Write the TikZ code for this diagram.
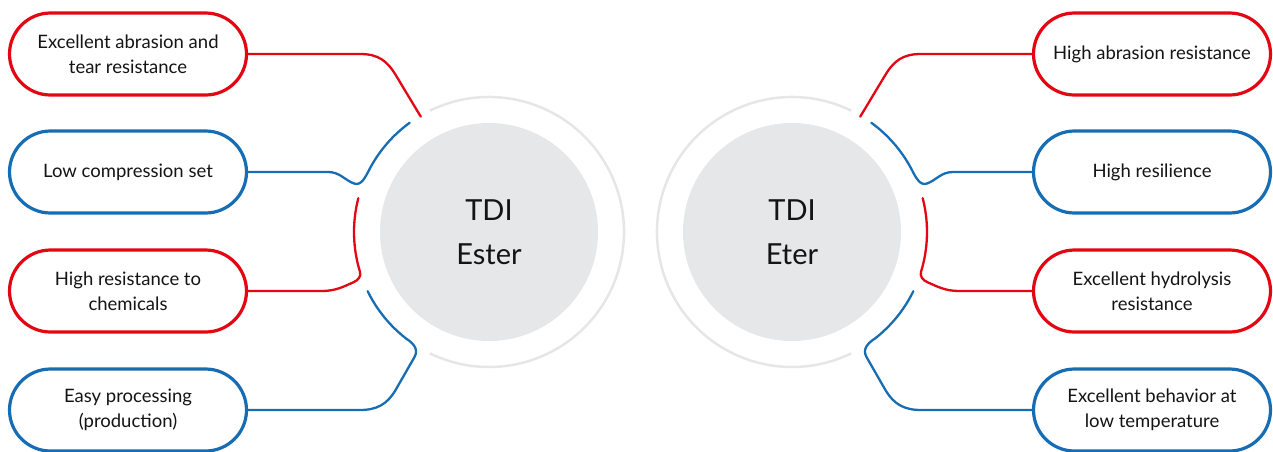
\documentclass[tikz,border=0pt]{standalone}
\usepackage{fontspec}
\setmainfont{Lato}
\usetikzlibrary{calc}
\definecolor{cred}{RGB}{227,6,19}
\definecolor{cblue}{RGB}{23,109,180}
\definecolor{cfill}{RGB}{230,231,232}
\definecolor{cring}{RGB}{230,230,230}
\definecolor{ctext}{RGB}{20,20,20}
\begin{document}
\begin{tikzpicture}[x=1pt,y=1pt,
  pill/.style={draw, fill=white, line width=3.2pt, rounded corners=41pt, minimum width=237pt, minimum height=82pt,
    align=center, font=\fontsize{18.5}{25}\selectfont, text=ctext, inner sep=0pt},
  redpill/.style={pill, draw=cred},
  bluepill/.style={pill, draw=cblue},
  conn/.style={line width=2.3pt, line cap=round},
  hub/.style={circle, fill=cfill, minimum size=218pt, inner sep=0pt, align=center,
    font=\fontsize{29}{44}\selectfont, text=ctext},
  ring/.style={draw=cring, line width=2.5pt}
]
\useasboundingbox (0,0) rectangle (1273,-451);

% hubs
\node[hub] (cl) at (489,-232) {TDI\\Ester};
\node[hub] (cr) at (792,-232) {TDI\\Eter};
\draw[ring] ($(cl)+(116:135)$) arc[start angle=116, end angle=-116, radius=135];
\draw[ring] ($(cr)+(64:135)$) arc[start angle=64, end angle=296, radius=135];

% boxes left
\node[redpill]  (l1) at (128,-54)  {Excellent abrasion and\\tear resistance};
\node[bluepill] (l2) at (128,-172) {Low compression set};
\node[redpill]  (l3) at (128,-291) {High resistance to\\chemicals};
\node[bluepill] (l4) at (128,-410) {Easy processing\\(production)};
% boxes right
\node[redpill]  (r1) at (1152,-54)  {High abrasion resistance};
\node[bluepill] (r2) at (1152,-172) {High resilience};
\node[redpill]  (r3) at (1152,-291) {Excellent hydrolysis\\resistance};
\node[bluepill] (r4) at (1152,-410) {Excellent behavior at\\low temperature};

% connector ends at the hubs
\coordinate (a1) at ($(cl)+(120.6:134)$);
\coordinate (a2) at ($(cl)+(126:135)$);
\coordinate (a3) at ($(cl)+(165.5:135)$);
\coordinate (a4) at ($(cl)+(206:135)$);
\coordinate (b1) at ($(cr)+(59.4:134)$);
\coordinate (b2) at ($(cr)+(54:135)$);
\coordinate (b3) at ($(cr)+(14.5:135)$);
\coordinate (b4) at ($(cr)+(-26:135)$);

% left connectors
\draw[conn, cred] (l1.east) -- (360,-54) .. controls (378,-54) and (387,-60.5) .. (396,-75.5) -- (a1);
\draw[conn, cblue] (a2) arc[start angle=126, end angle=152, radius=135]
  .. controls (365,-178) and (361,-186) .. (354,-183.5)
  .. controls (345,-180.3) and (340,-172) .. (328,-172) -- (l2.east);
\draw[conn, cred] (a3) arc[start angle=165.5, end angle=197, radius=135]
  .. controls (361.2,-276) and (359,-280) .. (353,-282.5)
  .. controls (344,-286.3) and (336,-291) .. (322,-291) -- (l3.east);
\draw[conn, cblue] (a4) arc[start angle=206, end angle=232, radius=135]
  .. controls (413,-343) and (419,-349) .. (414.5,-357) -- (395,-391)
  .. controls (387,-404) and (377,-410) .. (360,-410) -- (l4.east);

% right connectors
\draw[conn, cred] (r1.west) -- (921,-54) .. controls (903,-54) and (894,-60.5) .. (885,-75.5) -- (b1);
\draw[conn, cblue] (b2) arc[start angle=54, end angle=28, radius=135]
  .. controls (916,-178) and (920,-186) .. (927,-183.5)
  .. controls (936,-180.3) and (941,-172) .. (953,-172) -- (r2.west);
\draw[conn, cred] (b3) arc[start angle=14.5, end angle=-17, radius=135]
  .. controls (919.8,-276) and (922,-280) .. (928,-282.5)
  .. controls (937,-286.3) and (945,-291) .. (959,-291) -- (r3.west);
\draw[conn, cblue] (b4) arc[start angle=-26, end angle=-52, radius=135]
  .. controls (868,-343) and (862,-349) .. (866.5,-357) -- (886,-391)
  .. controls (894,-404) and (904,-410) .. (921,-410) -- (r4.west);
\end{tikzpicture}
\end{document}
